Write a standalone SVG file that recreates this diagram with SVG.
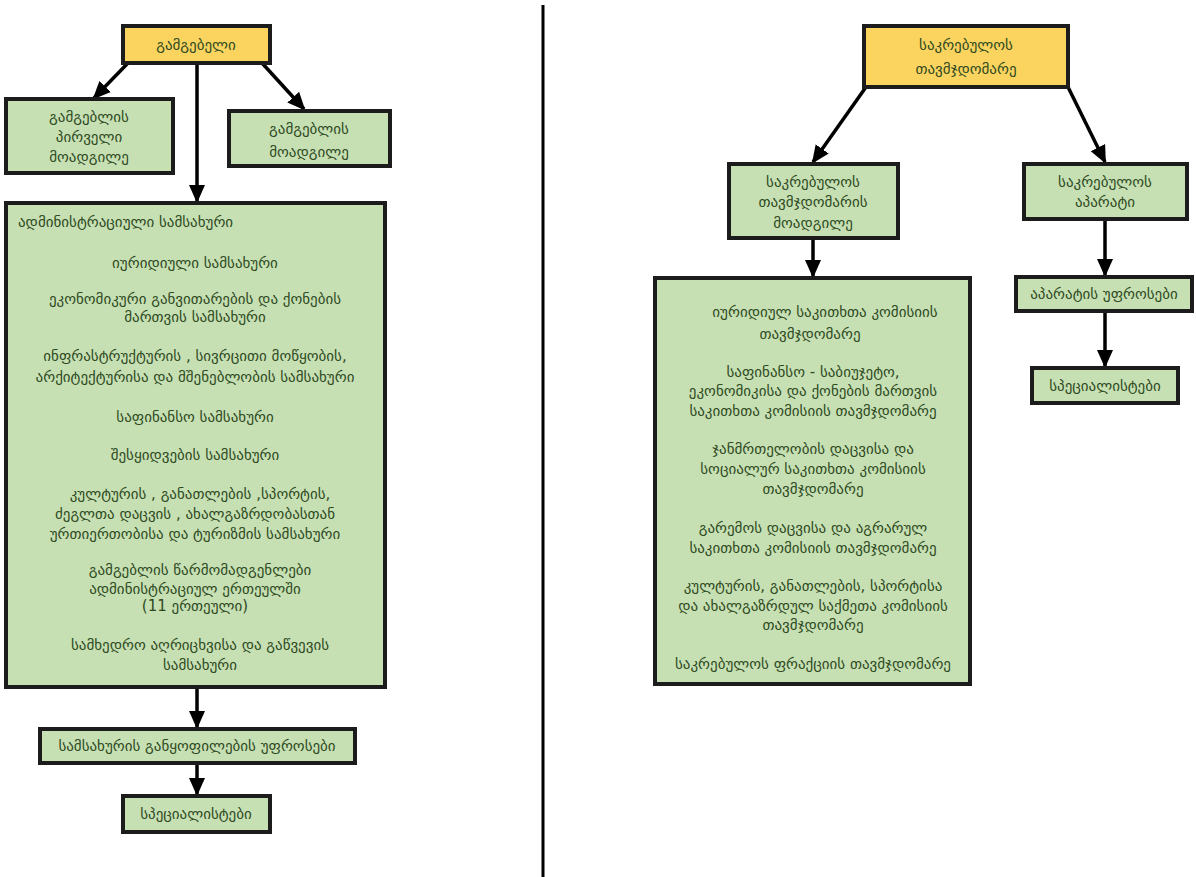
<svg xmlns="http://www.w3.org/2000/svg" width="1196" height="877" viewBox="0 0 1196 877">
<style>
.y{fill:#FAD45E;stroke:#1c1c1c;stroke-width:4}
.g{fill:#C6E0B4;stroke:#1c1c1c;stroke-width:4}
text{font-family:"DejaVu Sans","Noto Sans",sans-serif;font-size:15px;fill:#2f4a22;text-anchor:middle}
.l{text-anchor:start}
.c{stroke:#000;stroke-width:3.5;fill:none;marker-end:url(#ah)}
</style>
<defs>
<marker id="ah" markerUnits="userSpaceOnUse" markerWidth="18" markerHeight="18" refX="16" refY="9" orient="auto" viewBox="0 0 18 18">
<path d="M0,1 L18,9 L0,17 Z" fill="#000"/>
</marker>
</defs>
<rect width="1196" height="877" fill="#fff"/>
<line x1="543" y1="5" x2="543" y2="877" stroke="#000" stroke-width="3"/>
<g id="connectors">
<line class="c" x1="128" y1="63" x2="94" y2="98"/>
<line class="c" x1="262" y1="63" x2="304" y2="109"/>
<line class="c" x1="197" y1="63" x2="197" y2="201"/>
<line class="c" x1="197" y1="688" x2="197" y2="727"/>
<line class="c" x1="197" y1="764" x2="197" y2="794"/>
<line class="c" x1="866" y1="87" x2="813" y2="162"/>
<line class="c" x1="1068" y1="87" x2="1105" y2="162"/>
<line class="c" x1="813" y1="239" x2="813" y2="276"/>
<line class="c" x1="1105" y1="220" x2="1105" y2="275"/>
<line class="c" x1="1105" y1="311" x2="1105" y2="366"/>
</g>
<g id="gamgebeli">
<rect class="y" x="123" y="26" width="147" height="37"/>
<text x="196" y="50">გამგებელი</text>
</g>
<g id="pirveli-moadgile">
<rect class="g" x="6" y="99" width="167" height="74"/>
<text x="89" y="122">გამგებლის</text>
<text x="89" y="142">პირველი</text>
<text x="89" y="162">მოადგილე</text>
</g>
<g id="moadgile">
<rect class="g" x="229" y="111" width="161" height="55"/>
<text x="309" y="134">გამგებლის</text>
<text x="309" y="157">მოადგილე</text>
</g>
<g id="samsakhurebi">
<rect class="g" x="6" y="203" width="379" height="484"/>
<text class="l" x="18" y="227">ადმინისტრაციული სამსახური</text>
<text x="195" y="268">იურიდიული სამსახური</text>
<text x="195" y="304">ეკონომიკური განვითარების და ქონების</text>
<text x="195" y="322">მართვის სამსახური</text>
<text x="195" y="361">ინფრასტრუქტურის , სივრცითი მოწყობის,</text>
<text x="195" y="382">არქიტექტურისა და მშენებლობის სამსახური</text>
<text x="195" y="422">საფინანსო სამსახური</text>
<text x="195" y="460">შესყიდვების სამსახური</text>
<text x="200" y="499">კულტურის , განათლების ,სპორტის,</text>
<text x="195" y="519">ძეგლთა დაცვის , ახალგაზრდობასთან</text>
<text x="195" y="539">ურთიერთობისა და ტურიზმის სამსახური</text>
<text x="200" y="575">გამგებლის წარმომადგენლები</text>
<text x="195" y="594">ადმინისტრაციულ ერთეულში</text>
<text x="195" y="611">(11 ერთეული)</text>
<text x="200" y="650">სამხედრო აღრიცხვისა და გაწვევის</text>
<text x="200" y="670">სამსახური</text>
</g>
<g id="ganyofilebis-ufrosebi">
<rect class="g" x="40" y="729" width="315" height="34"/>
<text x="197" y="751">სამსახურის განყოფილების უფროსები</text>
</g>
<g id="specialistebi-l">
<rect class="g" x="123" y="796" width="147" height="36"/>
<text x="196" y="819">სპეციალისტები</text>
</g>
<g id="sakrebulos-tavmjdomare">
<rect class="y" x="864" y="26" width="204" height="61"/>
<text x="966" y="50">საკრებულოს</text>
<text x="966" y="74">თავმჯდომარე</text>
</g>
<g id="tavmjdomaris-moadgile">
<rect class="g" x="729" y="164" width="169" height="74"/>
<text x="813" y="187">საკრებულოს</text>
<text x="813" y="207">თავმჯდომარის</text>
<text x="813" y="228">მოადგილე</text>
</g>
<g id="aparati">
<rect class="g" x="1024" y="164" width="163" height="55"/>
<text x="1105" y="187">საკრებულოს</text>
<text x="1105" y="207">აპარატი</text>
</g>
<g id="komisiebi">
<rect class="g" x="655" y="278" width="315" height="406"/>
<text x="825" y="317">იურიდიულ საკითხთა კომისიის</text>
<text x="810" y="339">თავმჯდომარე</text>
<text x="813" y="377">საფინანსო - საბიუჯეტო,</text>
<text x="813" y="396">ეკონომიკისა და ქონების მართვის</text>
<text x="813" y="416">საკითხთა კომისიის თავმჯდომარე</text>
<text x="813" y="454">ჯანმრთელობის დაცვისა და</text>
<text x="813" y="474">სოციალურ საკითხთა კომისიის</text>
<text x="813" y="494">თავმჯდომარე</text>
<text x="813" y="533">გარემოს დაცვისა და აგრარულ</text>
<text x="813" y="553">საკითხთა კომისიის თავმჯდომარე</text>
<text x="813" y="591">კულტურის, განათლების, სპორტისა</text>
<text x="813" y="611">და ახალგაზრდულ საქმეთა კომისიის</text>
<text x="813" y="630">თავმჯდომარე</text>
<text x="813" y="669">საკრებულოს ფრაქციის თავმჯდომარე</text>
</g>
<g id="aparatis-ufrosebi">
<rect class="g" x="1016" y="277" width="176" height="34"/>
<text x="1104" y="299">აპარატის უფროსები</text>
</g>
<g id="specialistebi-r">
<rect class="g" x="1032" y="368" width="146" height="35"/>
<text x="1105" y="391">სპეციალისტები</text>
</g>
</svg>
